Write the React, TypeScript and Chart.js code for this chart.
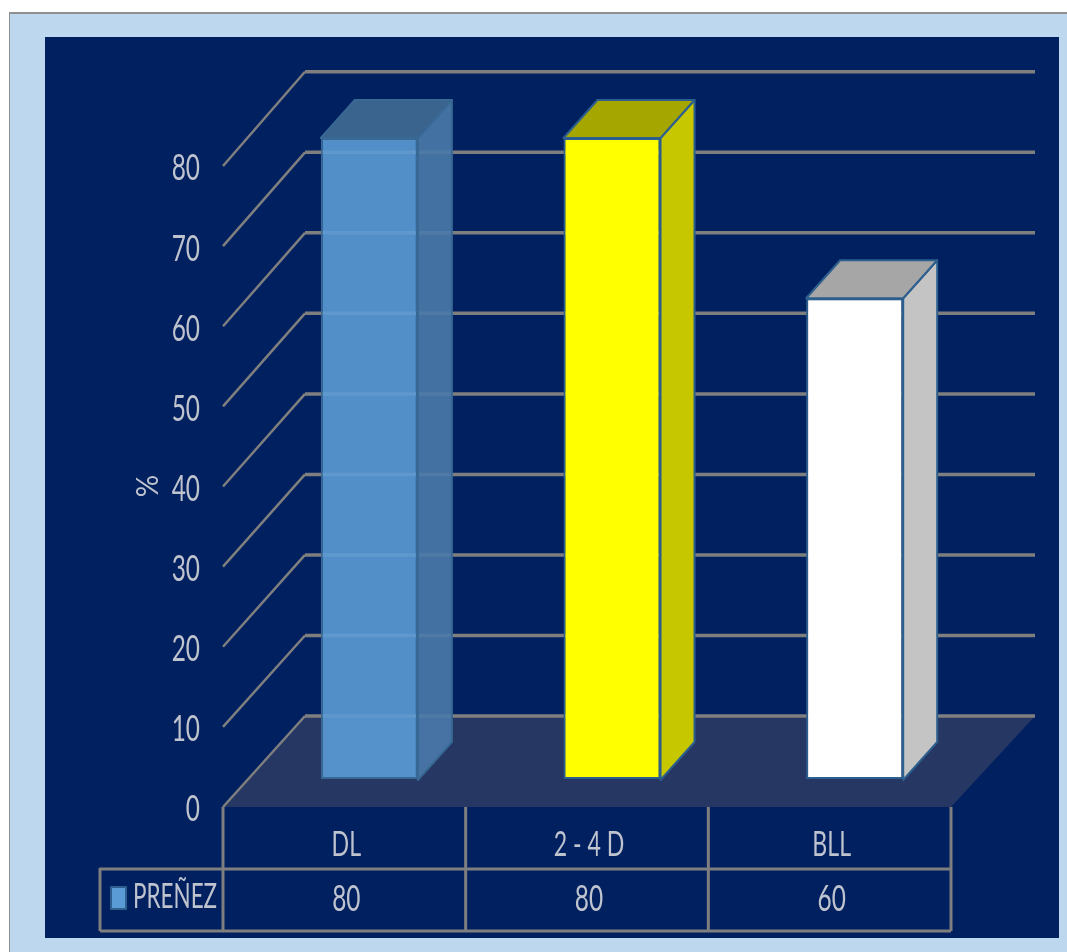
import React, { useEffect, useRef } from "react";
import { Chart, registerables } from "chart.js";

Chart.register(...registerables);

// Chart values
const categories = ["DL", "2 - 4 D", "BLL"];
const seriesName = "PREÑEZ";
const pregnancyPct = [80, 80, 60];
const axisTitle = "%";

// Bar face colours: front, side, top, outline
const frontColors = ["rgba(91,155,213,0.9)", "#FFFF00", "#FFFFFF"];
const sideColors = ["rgba(74,122,170,0.9)", "#C7C700", "#C4C4C4"];
const topColors = ["rgba(64,106,147,0.9)", "#A6A600", "#A6A6A6"];
const edgeColors = ["#386894", "#2C5F8E", "#2C5F8E"];

const RULE = "#7F7F7F";
const TEXT = "#BEC3CE";
const NAVY = "#002060";
const FONT = 'Lato, "Liberation Sans", sans-serif';

// Oblique projection of the box: bars stand 28px up the floor, the wall sits at the far end
const BAR_DX = 25;
const BAR_DY = 28;
const BAR_DEPTH_X = 34;
const BAR_DEPTH_Y = 38;
const WALL_DX = 82;
const WALL_DY = 91;
const WALL_STRETCH = 1.005;
const WALL_END = 1035;
const FRONT_END = 951;

function narrowText(
  ctx: CanvasRenderingContext2D,
  text: string,
  x: number,
  y: number,
  align: CanvasTextAlign,
  size: number,
  stretch: number
) {
  ctx.save();
  ctx.translate(x, y);
  ctx.scale(stretch, 1);
  ctx.font = `400 ${size}px ${FONT}`;
  ctx.fillStyle = TEXT;
  ctx.textAlign = align;
  ctx.textBaseline = "middle";
  ctx.fillText(text, 0, 0);
  ctx.restore();
}

function line(ctx: CanvasRenderingContext2D, pts: number[][], width: number, color = RULE) {
  ctx.beginPath();
  ctx.moveTo(pts[0][0], pts[0][1]);
  for (const p of pts.slice(1)) ctx.lineTo(p[0], p[1]);
  ctx.lineWidth = width;
  ctx.strokeStyle = color;
  ctx.lineJoin = "round";
  ctx.stroke();
}

function poly(ctx: CanvasRenderingContext2D, pts: number[][], fill: string, stroke?: string) {
  ctx.beginPath();
  ctx.moveTo(pts[0][0], pts[0][1]);
  for (const p of pts.slice(1)) ctx.lineTo(p[0], p[1]);
  ctx.closePath();
  ctx.fillStyle = fill;
  ctx.fill();
  if (stroke) {
    ctx.lineWidth = 2;
    ctx.strokeStyle = stroke;
    ctx.lineJoin = "round";
    ctx.stroke();
  }
}

// Page frame, floor, wall rules, and the rear faces of the bars
const scenePlugin = {
  id: "scene3d",
  beforeDraw(chart: any) {
    const { ctx, width, height } = chart;
    ctx.save();
    ctx.fillStyle = "#FFFFFF";
    ctx.fillRect(0, 0, width, height);
    ctx.fillStyle = "#8F8F8F";
    ctx.fillRect(9, 12, width - 9, height - 12);
    ctx.fillStyle = "#BDD7EE";
    ctx.fillRect(10, 14, width - 10, height - 14);
    ctx.fillStyle = NAVY;
    ctx.fillRect(45, 37, 1014, 901);
    ctx.restore();
  },
  beforeDatasetsDraw(chart: any) {
    const { ctx, scales } = chart;
    const y = scales.y;
    const x = scales.x;
    const zeroPx = y.getPixelForValue(0);
    const floorY = zeroPx + BAR_DY;
    const wallBase = floorY - WALL_DY;
    const frontX = x.left - BAR_DX;
    ctx.save();
    poly(
      ctx,
      [
        [frontX, floorY],
        [frontX + WALL_DX, wallBase],
        [WALL_END, wallBase],
        [FRONT_END, floorY],
      ],
      "#263763"
    );
    for (const tick of y.ticks) {
      const py = y.getPixelForValue(tick.value) + BAR_DY;
      const wy = wallBase - (floorY - py) * WALL_STRETCH;
      line(ctx, [[frontX, py], [frontX + WALL_DX, wy]], 2.5);
      line(ctx, [[frontX + WALL_DX, wy], [WALL_END, wy]], 3.5);
      narrowText(ctx, String(tick.value), 200, py + 2.5, "right", 37, 0.66);
    }

    // Side and top faces sit behind the front face drawn by the bar elements
    const bars = chart.getDatasetMeta(0).data;
    bars.forEach((bar: any, i: number) => {
      const half = bar.width / 2;
      const l = bar.x - half;
      const r = bar.x + half;
      const t = bar.y;
      const b = bar.base + 1;
      poly(
        ctx,
        [
          [r, t],
          [r + BAR_DEPTH_X, t - BAR_DEPTH_Y],
          [r + BAR_DEPTH_X, b - BAR_DEPTH_Y],
          [r, b],
        ],
        sideColors[i],
        edgeColors[i]
      );
      poly(
        ctx,
        [
          [l, t],
          [l + BAR_DEPTH_X, t - BAR_DEPTH_Y],
          [r + BAR_DEPTH_X, t - BAR_DEPTH_Y],
          [r, t],
        ],
        topColors[i],
        edgeColors[i]
      );
    });
    ctx.restore();
  },
  afterDraw(chart: any) {
    const { ctx, scales } = chart;
    const x = scales.x;
    const zeroPx = scales.y.getPixelForValue(0);
    const floorY = zeroPx + BAR_DY;
    const rowY = floorY + 62;
    const tableBottom = floorY + 124;
    const tableLeft = 100;
    const frontX = x.left - BAR_DX;
    const step = x.width / categories.length;
    ctx.save();

    // Data table under the floor
    line(ctx, [[tableLeft, tableBottom], [tableLeft, rowY], [frontX + step * 3, rowY]], 3);
    line(ctx, [[tableLeft, tableBottom], [frontX + step * 3, tableBottom]], 3);
    for (let i = 0; i <= categories.length; i++) {
      const vx = frontX + step * i;
      line(ctx, [[vx, floorY], [vx, tableBottom]], 3);
    }
    categories.forEach((name, i) => {
      const cx = x.getPixelForTick(i) - BAR_DX + 2;
      narrowText(ctx, name, cx, 845, "center", 34, 0.68);
      narrowText(ctx, String(pregnancyPct[i]), cx, 899, "center", 37, 0.66);
    });

    // Series key in the table's first column
    ctx.fillStyle = "#5B9BD5";
    ctx.strokeStyle = "#2C5F8E";
    ctx.lineWidth = 2;
    ctx.fillRect(111, 887, 15, 22);
    ctx.strokeRect(111, 887, 15, 22);
    narrowText(ctx, chart.data.datasets[0].label, 133, 897, "left", 34, 0.66);

    // Value axis title
    ctx.translate(148, 486);
    ctx.rotate(-Math.PI / 2);
    narrowText(ctx, axisTitle, 0, 0, "center", 31, 0.9);
    ctx.restore();
  },
};

export default function App() {
  const ref = useRef<HTMLCanvasElement | null>(null);

  useEffect(() => {
    if (!ref.current) return;
    const chart = new Chart(ref.current, {
      type: "bar",
      data: {
        labels: categories,
        datasets: [
          {
            label: seriesName,
            data: pregnancyPct,
            backgroundColor: frontColors,
            borderColor: edgeColors,
            borderWidth: 2,
            borderSkipped: false,
            barPercentage: 0.4,
            categoryPercentage: 1,
          },
        ],
      },
      options: {
        responsive: false,
        animation: false,
        layout: { padding: { top: 138, right: 91, bottom: 0, left: 0 } },
        plugins: { legend: { display: false }, tooltip: { enabled: false } },
        scales: {
          x: {
            grid: { display: false },
            border: { display: false },
            ticks: { display: false },
            afterFit: (s: any) => {
              s.height = 173;
            },
          },
          y: {
            min: 0,
            max: 80,
            grid: { display: false },
            border: { display: false },
            ticks: { display: false, stepSize: 10 },
            afterFit: (s: any) => {
              s.width = 248;
            },
          },
        },
      },
      plugins: [scenePlugin],
    } as any);
    return () => chart.destroy();
  }, []);

  return (
    <div style={{ position: "absolute", left: 0, top: 0, width: 1067, height: 952 }}>
      <canvas ref={ref} width={1067} height={952} style={{ display: "block" }} />
    </div>
  );
}
